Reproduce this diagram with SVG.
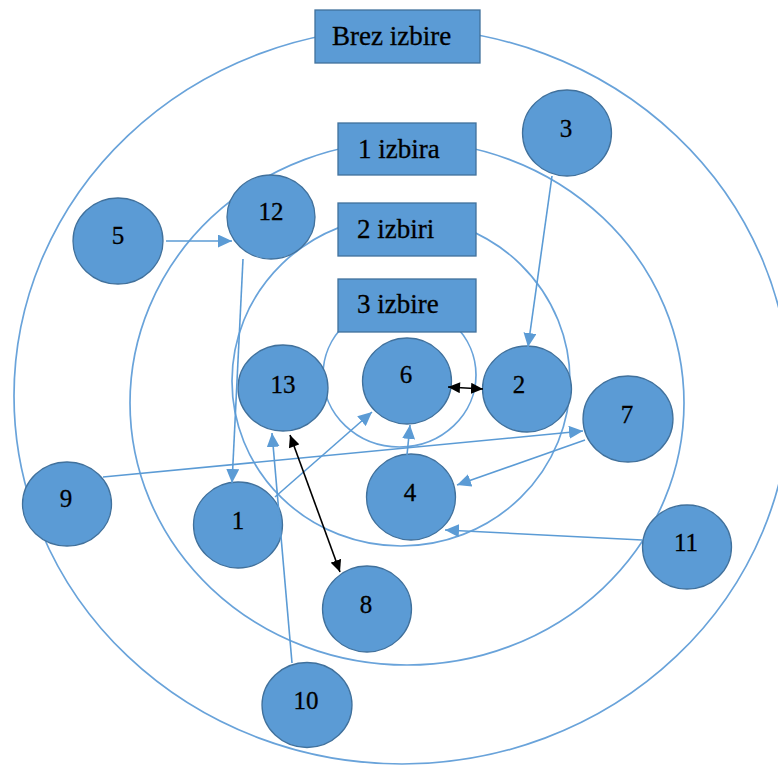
<svg xmlns="http://www.w3.org/2000/svg" width="778" height="765" viewBox="0 0 778 765">
  <defs>
    <style>
      .ring { fill: none; stroke: #69A3DA; stroke-width: 1.7; }
      .box { fill: #5B9BD5; stroke: #41719C; stroke-width: 1.3; }
      .node { fill: #5B9BD5; stroke: #41719C; stroke-width: 1.3; }
      .lbl { font-family: "Liberation Serif", "Times New Roman", serif; font-size: 27px; fill: #000; stroke: #000; stroke-width: 0.3; }
      .num { font-family: "Liberation Serif", "Times New Roman", serif; font-size: 25px; fill: #000; stroke: #000; stroke-width: 0.3; text-anchor: middle; }
      .link { fill: none; stroke: #5B9BD5; stroke-width: 1.6; marker-end: url(#ah); }
      .both { fill: none; stroke: #000; stroke-width: 1.6; marker-start: url(#kh0); marker-end: url(#kh1); }
    </style>
    <marker id="ah" markerUnits="userSpaceOnUse" markerWidth="15" markerHeight="13" refX="14" refY="6.5" orient="auto">
      <path d="M0,0 L14,6.5 L0,13 z" fill="#5B9BD5"/>
    </marker>
    <marker id="kh1" markerUnits="userSpaceOnUse" markerWidth="13" markerHeight="11" refX="12" refY="5.5" orient="auto">
      <path d="M0,0 L12,5.5 L0,11 z" fill="#000"/>
    </marker>
    <marker id="kh0" markerUnits="userSpaceOnUse" markerWidth="13" markerHeight="11" refX="0" refY="5.5" orient="auto">
      <path d="M12,0 L0,5.5 L12,11 z" fill="#000"/>
    </marker>
  </defs>

  <!-- concentric choice rings -->
  <g id="rings">
    <ellipse class="ring" cx="402" cy="396" rx="388" ry="368"/>
    <ellipse class="ring" cx="407" cy="403" rx="277" ry="262"/>
    <ellipse class="ring" cx="401" cy="381" rx="169" ry="165"/>
    <ellipse class="ring" cx="399.5" cy="375" rx="76.5" ry="72"/>
  </g>

  <!-- ring titles -->
  <g id="title-0">
    <rect class="box" x="315" y="10" width="165" height="53"/>
    <text class="lbl" x="332" y="45">Brez izbire</text>
  </g>
  <g id="title-1">
    <rect class="box" x="338" y="123" width="138" height="52"/>
    <text class="lbl" x="358" y="158">1 izbira</text>
  </g>
  <g id="title-2">
    <rect class="box" x="338" y="203" width="138" height="53"/>
    <text class="lbl" x="357" y="238">2 izbiri</text>
  </g>
  <g id="title-3">
    <rect class="box" x="338" y="279" width="138" height="53"/>
    <text class="lbl" x="357" y="313">3 izbire</text>
  </g>

  <!-- people -->
  <g id="n1"><ellipse class="node" cx="238" cy="525" rx="44.5" ry="43"/><text class="num" x="238" y="529">1</text></g>
  <g id="n2"><ellipse class="node" cx="527" cy="389" rx="44.5" ry="43"/><text class="num" x="519" y="393">2</text></g>
  <g id="n3"><ellipse class="node" cx="567" cy="133" rx="44.5" ry="43"/><text class="num" x="566" y="137">3</text></g>
  <g id="n4"><ellipse class="node" cx="411" cy="497" rx="44.5" ry="43"/><text class="num" x="410" y="501">4</text></g>
  <g id="n5"><ellipse class="node" cx="118" cy="241" rx="45" ry="43"/><text class="num" x="118" y="244">5</text></g>
  <g id="n6"><ellipse class="node" cx="407" cy="381" rx="44.5" ry="43"/><text class="num" x="406" y="383">6</text></g>
  <g id="n7"><ellipse class="node" cx="628" cy="419" rx="45" ry="43"/><text class="num" x="627" y="423">7</text></g>
  <g id="n8"><ellipse class="node" cx="367" cy="609" rx="44.5" ry="43"/><text class="num" x="366" y="613">8</text></g>
  <g id="n9"><ellipse class="node" cx="67" cy="504" rx="44.5" ry="42"/><text class="num" x="66" y="507">9</text></g>
  <g id="n10"><ellipse class="node" cx="307" cy="705" rx="45" ry="42.5"/><text class="num" x="306" y="709">10</text></g>
  <g id="n11"><ellipse class="node" cx="687" cy="547" rx="44.5" ry="42"/><text class="num" x="686" y="551">11</text></g>
  <g id="n12"><ellipse class="node" cx="271" cy="217" rx="44" ry="42"/><text class="num" x="271" y="220">12</text></g>
  <g id="n13"><ellipse class="node" cx="283" cy="388" rx="45" ry="43"/><text class="num" x="283" y="393">13</text></g>

  <!-- choices -->
  <g id="connectors">
    <line class="link" x1="166" y1="241" x2="232" y2="241"/>
    <line class="link" x1="243" y1="259" x2="232" y2="483"/>
    <line class="link" x1="552" y1="176" x2="528" y2="347"/>
    <line class="link" x1="275" y1="497" x2="372" y2="412"/>
    <line class="link" x1="292" y1="663" x2="272" y2="433"/>
    <line class="link" x1="103" y1="477" x2="583" y2="431"/>
    <line class="link" x1="407" y1="455" x2="410" y2="425"/>
    <line class="link" x1="585" y1="440" x2="457" y2="485"/>
    <line class="link" x1="642" y1="540" x2="445" y2="530"/>
    <line class="both" x1="448" y1="387" x2="483" y2="389"/>
    <line class="both" x1="290" y1="435" x2="340" y2="572"/>
  </g>
</svg>
